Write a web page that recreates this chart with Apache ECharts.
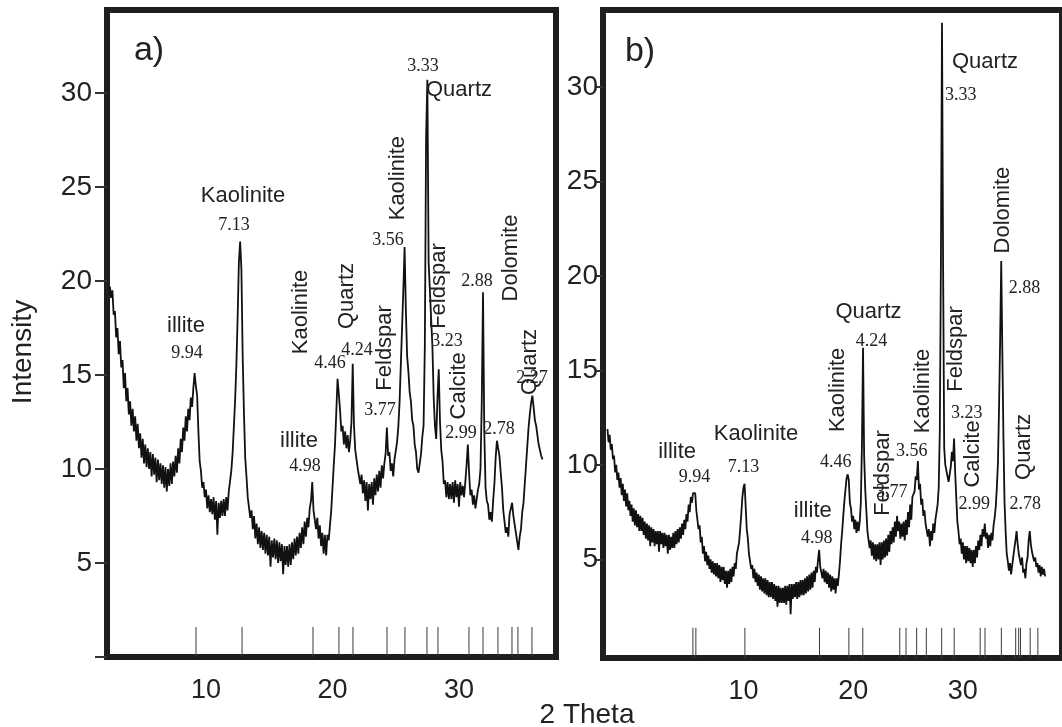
<!DOCTYPE html>
<html>
<head>
<meta charset="utf-8">
<script src="https://cdn.jsdelivr.net/npm/echarts@6/dist/echarts.min.js"></script>
<style>
html,body{margin:0;padding:0;background:#fff;}
#chart{width:1062px;height:727px;}
</style>
</head>
<body>
<div id="chart"></div>
<script>
// XRD patterns, intensity sampled every 0.1 degree 2-theta
const stepDeg = 0.1;

// sample a) starts at 2.4 deg
const startA = 2.4;
const intensityA = [
  19.7, 19.1, 19.5, 18.2, 18.4, 17.0, 17.5, 16.1, 16.8, 15.4,
  15.8, 14.3, 15.1, 13.6, 14.3, 12.9, 13.6, 12.3, 13.2, 12.0,
  12.8, 11.5, 12.4, 11.1, 11.9, 10.6, 11.6, 10.3, 11.3, 10.1,
  11.1, 10.0, 10.9, 9.6, 10.8, 9.7, 10.6, 9.3, 10.5, 9.4,
  10.3, 9.2, 10.2, 9.0, 10.1, 8.8, 10.0, 9.1, 10.3, 9.2,
  10.4, 9.6, 10.7, 9.8, 11.1, 10.3, 11.6, 10.9, 12.2, 11.5,
  12.8, 12.0, 13.2, 12.6, 13.8, 13.3, 14.3, 15.1, 14.4, 13.9,
  12.0, 10.4, 9.9, 9.0, 9.3, 8.5, 8.9, 7.9, 8.6, 7.7,
  8.4, 7.6, 8.5, 7.3, 8.3, 6.5, 8.2, 7.4, 8.3, 7.5,
  8.4, 7.5, 8.5, 7.8, 8.8, 8.7, 9.9, 10.8, 12.2, 13.6,
  15.5, 18.0, 21.0, 22.1, 20.6, 16.0, 13.0, 10.6, 9.6, 8.5,
  8.4, 7.4, 7.8, 6.8, 7.5, 6.3, 7.1, 6.0, 6.9, 5.8,
  6.7, 5.7, 6.6, 5.5, 6.5, 5.4, 6.4, 4.8, 6.2, 5.3,
  6.3, 5.2, 6.2, 5.0, 6.1, 5.1, 6.0, 4.4, 5.9, 4.9,
  5.9, 4.8, 6.0, 4.9, 6.1, 5.2, 6.3, 5.4, 6.4, 5.5,
  6.6, 5.8, 6.9, 6.0, 7.2, 6.4, 7.4, 6.9, 7.9, 8.3,
  9.3, 7.8, 7.7, 6.8, 7.4, 6.3, 7.0, 5.9, 6.6, 5.5,
  6.5, 5.4, 6.5, 6.2, 7.0, 7.8, 9.0, 10.2, 11.3, 13.0,
  14.8, 14.0, 13.1, 12.0, 12.3, 11.3, 12.0, 11.1, 11.8, 10.9,
  11.5, 12.5, 15.6, 12.3, 11.0, 10.9, 10.0, 10.1, 9.2, 9.7,
  8.7, 9.4, 8.3, 9.3, 7.8, 9.2, 8.4, 9.3, 8.1, 9.5,
  8.6, 9.7, 8.8, 9.9, 9.0, 10.2, 9.5, 10.3, 10.8, 12.2,
  10.7, 10.9, 9.9, 10.3, 9.6, 10.5, 10.5, 11.4, 12.2, 13.5,
  15.5, 17.5, 19.5, 21.8, 18.5, 16.0, 15.2, 14.1, 13.6, 12.6,
  12.3, 11.3, 10.9, 10.0, 9.8, 10.3, 10.8, 11.7, 12.3, 16.5,
  27.6, 30.7, 21.0, 19.5, 18.0, 16.5, 13.8, 12.3, 11.6, 13.8,
  15.3, 12.5, 11.0, 10.4, 9.2, 9.4, 8.5, 9.3, 8.4, 9.2,
  8.4, 9.3, 8.2, 9.4, 8.5, 9.2, 8.0, 9.3, 8.6, 9.1,
  8.5, 9.3, 10.2, 11.3, 9.8, 8.6, 8.9, 8.1, 8.6, 7.9,
  8.4, 8.9, 9.2, 10.0, 13.5, 19.4, 12.0, 9.0, 8.3, 8.1,
  7.3, 7.7, 7.2, 8.3, 9.2, 10.6, 11.5, 11.1, 10.7, 9.8,
  9.0, 7.8, 7.7, 6.6, 6.9, 6.4, 7.6, 7.6, 8.2, 7.5,
  7.6, 6.6, 6.5, 5.7, 6.4, 6.8, 7.7, 8.2, 9.2, 10.2,
  11.2, 12.2, 12.9, 13.5, 13.9, 13.3, 12.6, 12.3, 11.8, 11.3,
  11.0, 10.7, 10.5
];

// sample b) starts at -2.4 deg on its own scale
const startB = -2.4;
const intensityB = [
  11.9, 11.2, 11.6, 10.8, 11.1, 10.3, 10.5, 9.6, 10.0, 9.2,
  9.6, 8.8, 9.3, 8.4, 9.0, 8.1, 8.7, 7.8, 8.5, 7.6,
  8.1, 7.3, 7.9, 7.0, 7.7, 6.8, 7.6, 6.7, 7.4, 6.5,
  7.3, 6.5, 7.2, 6.3, 7.0, 6.1, 6.9, 6.0, 6.8, 5.7,
  6.7, 5.9, 6.6, 5.7, 6.5, 5.8, 6.5, 5.4, 6.5, 5.8,
  6.4, 5.6, 6.4, 5.7, 6.3, 5.3, 6.3, 5.5, 6.2, 5.6,
  6.4, 5.6, 6.5, 5.8, 6.6, 5.9, 6.7, 6.1, 6.9, 6.3,
  7.1, 6.6, 7.4, 7.0, 7.9, 7.5, 8.3, 8.0, 8.5, 8.6,
  8.5, 7.6, 7.5, 6.6, 6.8, 5.9, 6.2, 5.3, 5.7, 4.9,
  5.4, 4.7, 5.2, 4.5, 5.0, 4.3, 4.9, 4.2, 4.8, 4.1,
  4.8, 4.0, 4.7, 3.8, 4.6, 3.9, 4.6, 3.7, 4.4, 3.5,
  4.4, 3.7, 4.5, 3.8, 4.6, 4.1, 4.8, 4.5, 5.3, 5.2,
  5.9, 6.6, 7.4, 8.3, 8.8, 9.0, 7.8, 6.6, 6.1, 5.3,
  5.2, 4.5, 4.7, 4.0, 4.5, 3.8, 4.3, 3.6, 4.2, 3.4,
  4.1, 3.3, 4.0, 3.2, 4.0, 3.1, 3.9, 3.0, 3.8, 3.0,
  3.8, 2.9, 3.7, 2.8, 3.6, 2.5, 3.6, 2.7, 3.5, 2.7,
  3.5, 2.7, 3.6, 2.6, 3.6, 2.8, 3.7, 2.1, 3.7, 2.9,
  3.7, 3.0, 3.8, 2.9, 3.8, 3.0, 3.9, 3.1, 3.9, 3.1,
  4.0, 3.2, 4.1, 3.3, 4.2, 3.4, 4.3, 3.5, 4.4, 3.8,
  4.6, 4.3, 5.0, 5.5, 4.6, 4.7, 4.0, 4.5, 3.8, 4.4,
  3.7, 4.3, 3.5, 4.2, 3.3, 4.1, 3.4, 4.0, 3.2, 4.0,
  3.6, 4.2, 4.9, 5.8, 6.5, 7.3, 8.1, 8.7, 9.3, 9.5,
  9.2, 8.0, 7.7, 7.0, 7.3, 6.6, 7.1, 6.4, 7.0, 6.5,
  7.0, 8.0, 11.0, 16.2, 10.5, 8.7, 7.6, 6.5, 6.4, 5.6,
  6.0, 5.2, 5.9, 5.0, 5.8, 4.9, 5.8, 5.0, 5.9, 4.7,
  5.9, 5.0, 6.0, 5.1, 6.1, 5.2, 6.3, 5.4, 6.5, 5.8,
  6.7, 5.9, 7.0, 6.2, 7.3, 6.5, 7.0, 6.1, 6.9, 6.2,
  7.0, 6.0, 7.1, 6.3, 7.5, 6.7, 7.9, 7.1, 8.3, 8.3,
  8.6, 9.4, 9.2, 10.2, 8.7, 9.0, 7.9, 8.2, 7.3, 7.6,
  6.9, 7.0, 6.2, 6.6, 5.7, 6.5, 6.0, 6.9, 6.4, 7.1,
  7.5, 7.9, 8.8, 11.8, 20.7, 33.4, 20.5, 10.9, 10.0, 9.7,
  9.7, 9.1, 9.5, 9.9, 10.7, 10.2, 11.4, 9.6, 8.3, 7.0,
  6.5, 5.8, 6.1, 5.3, 5.9, 5.0, 5.7, 4.8, 5.7, 4.9,
  5.6, 4.8, 5.5, 4.6, 5.5, 4.8, 5.7, 5.1, 6.0, 5.5,
  6.3, 5.7, 6.6, 6.2, 6.9, 6.1, 6.4, 5.6, 6.3, 5.7,
  6.4, 6.0, 6.8, 7.2, 7.8, 8.8, 10.1, 13.0, 16.6, 20.8,
  16.0, 11.5, 8.0, 6.5, 5.3, 4.9, 4.4, 4.8, 4.2, 4.7,
  4.6, 5.6, 6.0, 6.5, 5.8, 5.3, 5.4, 4.7, 5.1, 4.3,
  4.5, 4.0, 4.8, 5.1, 6.0, 6.5, 5.8, 5.4, 5.5, 4.9,
  5.1, 4.6, 4.8, 4.3, 4.7, 4.1, 4.6, 4.2, 4.5, 4.1
];

// reference line positions (2-theta) drawn along the bottom
const sticksA = [9.21, 12.85, 18.46, 20.51, 21.62, 24.31, 25.73, 27.47, 28.34, 30.79, 31.9, 33.08, 34.19, 34.66, 35.77];
const sticksB = [5.39, 5.66, 10.13, 16.93, 19.61, 20.88, 24.25, 24.82, 25.79, 26.67, 28.07, 29.21, 31.58, 32.02, 33.51, 34.82, 35.09, 35.26, 36.14, 36.84];

// peak annotations: [2-theta, intensity, text, vertical]
const labelsA = [
  [8.42, 17.61, 'illite', 0], [8.50, 16.17, '9.94', 0],
  [12.92, 24.52, 'Kaolinite', 0], [12.21, 22.98, '7.13', 0],
  [17.35, 11.49, 'illite', 0], [17.83, 10.16, '4.98', 0],
  [17.51, 18.35, 'Kaolinite', 1], [19.80, 15.64, '4.46', 0],
  [21.15, 19.20, 'Quartz', 1], [21.94, 16.33, '4.24', 0],
  [24.15, 16.44, 'Feldspar', 1], [23.75, 13.14, '3.77', 0],
  [25.18, 25.47, 'Kaolinite', 1], [24.39, 22.19, '3.56', 0],
  [27.15, 31.43, '3.33', 0], [30.0, 30.15, 'Quartz', 0],
  [28.42, 19.73, 'Feldspar', 1], [29.05, 16.81, '3.23', 0],
  [30.0, 14.42, 'Calcite', 1], [30.16, 11.92, '2.99', 0],
  [31.42, 20.0, '2.88', 0], [34.11, 21.22, 'Dolomite', 1],
  [33.16, 12.13, '2.78', 0],
  [35.77, 14.84, '2.27', 0], [35.61, 15.69, 'Quartz', 1]
];
const labelsB = [
  [3.95, 10.68, 'illite', 0], [5.53, 9.36, '9.94', 0],
  [11.14, 11.64, 'Kaolinite', 0], [10.0, 9.88, '7.13', 0],
  [16.32, 7.56, 'illite', 0], [16.67, 6.13, '4.98', 0],
  [18.6, 13.97, 'Kaolinite', 1], [18.42, 10.15, '4.46', 0],
  [21.4, 18.09, 'Quartz', 0], [21.67, 16.56, '4.24', 0],
  [23.51, 8.56, '3.77', 0], [22.72, 9.57, 'Feldspar', 1],
  [26.32, 13.91, 'Kaolinite', 1], [25.35, 10.74, '3.56', 0],
  [32.02, 31.33, 'Quartz', 0], [29.82, 29.58, '3.33', 0],
  [29.39, 16.14, 'Feldspar', 1], [30.35, 12.75, '3.23', 0],
  [30.88, 10.58, 'Calcite', 1], [31.05, 7.93, '2.99', 0],
  [33.68, 23.49, 'Dolomite', 1], [35.61, 19.37, '2.88', 0],
  [35.61, 10.95, 'Quartz', 1], [35.7, 7.93, '2.78', 0]
];

// axis tick labels
const yTickLabels = [5, 10, 15, 20, 25, 30];
const yTickMarksA = [0, 5, 10, 15, 20, 25, 30];
const xTickLabels = [10, 20, 30];

const ink = '#1e1e1e';
const textInk = '#222';
const SANS = '"Liberation Sans", Arial, Helvetica, sans-serif';
const SERIF = '"Liberation Serif", "Times New Roman", serif';

function toPoints(start, values) {
  return values.map((v, i) => [Math.round((start + i * stepDeg) * 100) / 100, v]);
}

function patternSeries(idx, start, values) {
  return {
    type: 'line', xAxisIndex: idx, yAxisIndex: idx,
    data: toPoints(start, values),
    showSymbol: false, symbol: 'none',
    lineStyle: { color: '#111', width: 1.8 },
    silent: true, z: 3
  };
}

function stickSeries(idx, xs, base, len) {
  return {
    type: 'custom', xAxisIndex: idx, yAxisIndex: idx,
    data: xs.map(x => [x, base]),
    silent: true, z: 2,
    renderItem(params, api) {
      const p0 = api.coord([api.value(0), base]);
      const p1 = api.coord([api.value(0), base + len]);
      return { type: 'line', shape: { x1: p0[0], y1: p0[1], x2: p1[0], y2: p1[1] },
        style: { stroke: '#3a3a3a', lineWidth: 1 } };
    }
  };
}

function labelSeries(idx, list) {
  return {
    type: 'custom', xAxisIndex: idx, yAxisIndex: idx,
    data: list.map(l => [l[0], l[1]]),
    silent: true, clip: false, z: 5,
    renderItem(params, api) {
      const l = list[params.dataIndex];
      const p = api.coord([l[0], l[1]]);
      const isNum = /^[0-9]/.test(l[2]);
      const font = isNum ? '18px ' + SERIF : '22px ' + SANS;
      return {
        type: 'text', x: p[0], y: p[1], rotation: l[3] ? Math.PI / 2 : 0,
        style: { text: l[2], font: font, fill: textInk,
          align: 'center', verticalAlign: 'middle',
          textAlign: 'center', textVerticalAlign: 'middle' }
      };
    }
  };
}

function xAxisOf(idx, min, max) {
  return {
    type: 'value', gridIndex: idx, min: min, max: max,
    axisLine: { show: false, onZero: false }, splitLine: { show: false },
    axisTick: { show: false },
    axisLabel: { customValues: xTickLabels, fontSize: 27, color: textInk,
      fontFamily: SANS, margin: 20 }
  };
}

function yAxisOf(idx, min, max, tickVals, tickLen, margin) {
  return {
    type: 'value', gridIndex: idx, min: min, max: max,
    axisLine: { show: false, onZero: false }, splitLine: { show: false },
    axisTick: { show: true, length: tickLen, customValues: tickVals,
      lineStyle: { color: '#333', width: 2 } },
    axisLabel: { customValues: yTickLabels, fontSize: 28, color: textInk,
      fontFamily: SANS, margin: margin }
  };
}

const chart = echarts.init(document.getElementById('chart'), null, { renderer: 'canvas' });

chart.setOption({
  animation: false,
  backgroundColor: '#fff',
  grid: [
    { left: 107, top: 10, width: 449, height: 647, show: true,
      borderWidth: 6, borderColor: ink, backgroundColor: 'transparent' },
    { left: 603, top: 10, width: 477, height: 648, show: true,
      borderWidth: 6, borderColor: ink, backgroundColor: 'transparent' }
  ],
  xAxis: [
    xAxisOf(0, 2.174, 37.67),
    xAxisOf(1, -2.807, 39.04)
  ],
  yAxis: [
    yAxisOf(0, 0, 34.41, yTickMarksA, 12, 15),
    yAxisOf(1, -0.22, 34.08, yTickLabels, 8, 5)
  ],
  series: [
    patternSeries(0, startA, intensityA),
    patternSeries(1, startB, intensityB),
    stickSeries(0, sticksA, 0, 1.6),
    stickSeries(1, sticksB, -0.22, 1.6),
    labelSeries(0, labelsA),
    labelSeries(1, labelsB)
  ],
  graphic: [
    { type: 'text', x: 149, y: 51, silent: true,
      style: { text: 'a)', font: '34px ' + SANS, fill: textInk,
        align: 'center', verticalAlign: 'middle', textAlign: 'center', textVerticalAlign: 'middle' } },
    { type: 'text', x: 640, y: 52, silent: true,
      style: { text: 'b)', font: '34px ' + SANS, fill: textInk,
        align: 'center', verticalAlign: 'middle', textAlign: 'center', textVerticalAlign: 'middle' } },
    { type: 'text', x: 23, y: 352, rotation: Math.PI / 2, silent: true,
      style: { text: 'Intensity', font: '28px ' + SANS, fill: textInk,
        align: 'center', verticalAlign: 'middle', textAlign: 'center', textVerticalAlign: 'middle' } },
    { type: 'text', x: 587, y: 715, silent: true,
      style: { text: '2 Theta', font: '28px ' + SANS, fill: textInk,
        align: 'center', verticalAlign: 'middle', textAlign: 'center', textVerticalAlign: 'middle' } }
  ]
});
</script>
</body>
</html>
